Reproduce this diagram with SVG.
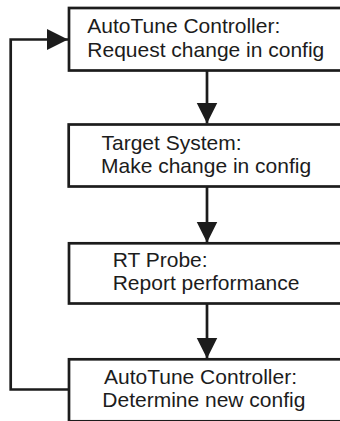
<svg xmlns="http://www.w3.org/2000/svg" width="340" height="421" viewBox="0 0 340 421">
  <style>
    .box { fill: #ffffff; stroke: #1c1c1c; stroke-width: 2.7; }
    .lbl { font-family: "Liberation Sans", Arial, Helvetica, sans-serif; font-size: 21px; fill: #1c1c1c; }
    .link { fill: none; stroke: #1c1c1c; stroke-width: 2.7; }
  </style>
  <defs>
    <marker id="head" markerUnits="userSpaceOnUse" markerWidth="22" markerHeight="22" refX="21" refY="10.5" orient="auto">
      <path d="M0,0 L21,10.5 L0,21 Z" fill="#1c1c1c"/>
    </marker>
  </defs>
  <rect width="340" height="421" fill="#ffffff"/>

  <g id="connectors">
    <line class="link" x1="207" y1="70.5" x2="207" y2="123.5" marker-end="url(#head)"/>
    <line class="link" x1="207" y1="186.5" x2="207" y2="242.5" marker-end="url(#head)"/>
    <line class="link" x1="207" y1="303.5" x2="207" y2="358.5" marker-end="url(#head)"/>
    <polyline class="link" points="69,389.5 10.7,389.5 10.7,39.5 68,39.5" marker-end="url(#head)"/>
  </g>

  <g id="request">
    <rect class="box" x="69" y="8" width="290" height="62.5"/>
    <text class="lbl" x="87.3" y="33">AutoTune Controller:</text>
    <text class="lbl" x="87.3" y="56.5">Request change in config</text>
  </g>

  <g id="apply">
    <rect class="box" x="68.7" y="124.5" width="290" height="62"/>
    <text class="lbl" x="101.5" y="150">Target System:</text>
    <text class="lbl" x="101" y="173.3">Make change in config</text>
  </g>

  <g id="probe">
    <rect class="box" x="69" y="243.3" width="290" height="60.2"/>
    <text class="lbl" x="112.7" y="267">RT Probe:</text>
    <text class="lbl" x="112.7" y="290.3">Report performance</text>
  </g>

  <g id="determine">
    <rect class="box" x="69" y="359.3" width="290" height="62"/>
    <text class="lbl" x="104" y="384">AutoTune Controller:</text>
    <text class="lbl" x="102.3" y="407.3">Determine new config</text>
  </g>
</svg>
